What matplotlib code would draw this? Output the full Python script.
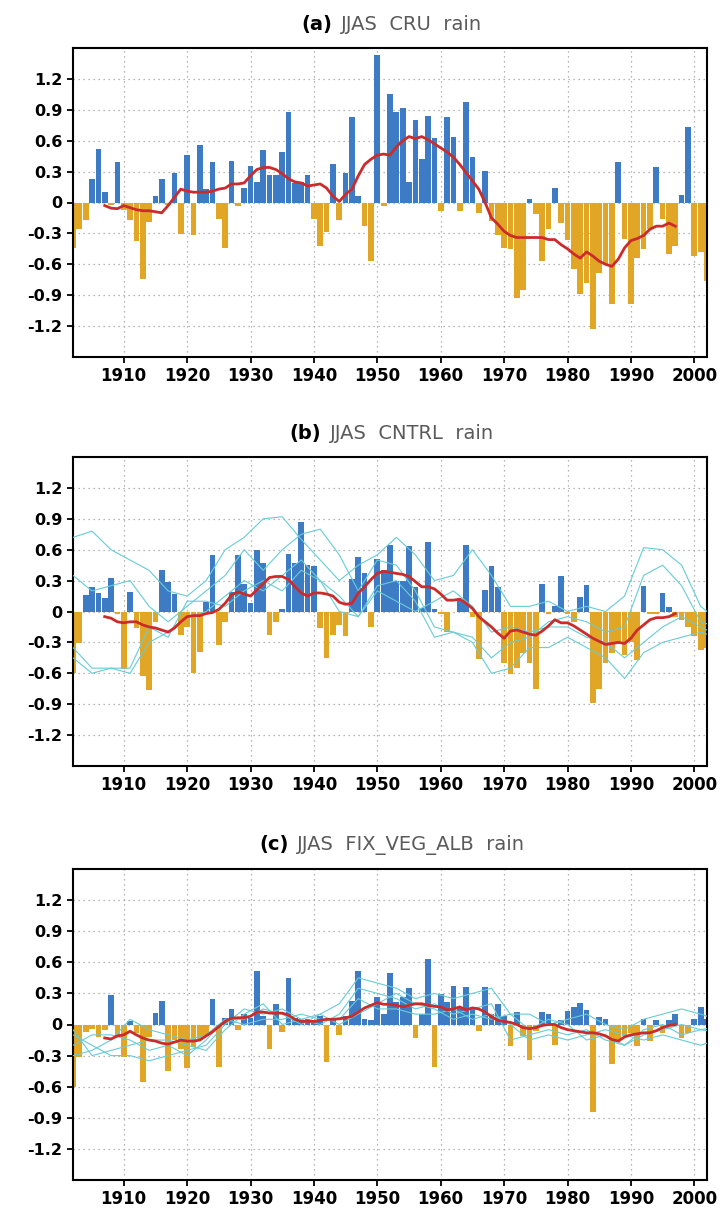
import matplotlib
matplotlib.use("Agg")
import matplotlib.pyplot as plt
from matplotlib.offsetbox import TextArea, HPacker, AnnotationBbox

# ---------------- data ----------------
years = list(range(1902, 2003))
smooth_years = list(range(1907, 1998))
member_years = [1902, 1905, 1908, 1911, 1914, 1917, 1920, 1923, 1926, 1929,
                1932, 1935, 1938, 1941, 1944, 1947, 1950, 1953, 1956, 1959,
                1962, 1965, 1968, 1971, 1974, 1977, 1980, 1983, 1986, 1989,
                1992, 1995, 1998, 2001, 2002]

cru_rain = [-0.44, -0.26, -0.17, 0.23, 0.52, 0.10, -0.02, 0.39, -0.07, -0.17,
            -0.37, -0.74, -0.19, 0.06, 0.23, -0.02, 0.29, -0.31, 0.46, -0.32,
            0.56, 0.13, 0.39, -0.16, -0.44, 0.40, -0.03, 0.14, 0.35, 0.20,
            0.51, 0.27, 0.27, 0.49, 0.88, 0.19, 0.20, 0.27, -0.16, -0.42,
            -0.29, 0.37, -0.17, 0.29, 0.83, 0.06, -0.23, -0.57, 1.43, -0.03,
            1.05, 0.88, 0.92, 0.20, 0.80, 0.42, 0.84, 0.63, -0.08, 0.83,
            0.64, -0.08, 0.98, 0.44, -0.10, 0.31, -0.18, -0.32, -0.44, -0.45,
            -0.93, -0.85, 0.03, -0.11, -0.57, -0.26, 0.14, -0.20, -0.36, -0.65,
            -0.89, -0.78, -1.23, -0.68, -0.60, -0.99, 0.39, -0.35, -0.99, -0.54,
            -0.45, -0.26, 0.34, -0.16, -0.50, -0.42, 0.07, 0.73, -0.52, -0.48,
            -0.76]

cru_smooth = [-0.03, -0.055, -0.06, -0.03, -0.05, -0.07, -0.08, -0.08, -0.09, -0.10,
              -0.03, 0.05, 0.13, 0.11, 0.10, 0.10, 0.10, 0.11, 0.13, 0.14,
              0.18, 0.18, 0.19, 0.26, 0.32, 0.34, 0.34, 0.32, 0.28, 0.23,
              0.20, 0.19, 0.16, 0.17, 0.18, 0.14, 0.06, 0.01, 0.08, 0.13,
              0.26, 0.37, 0.42, 0.46, 0.47, 0.46, 0.54, 0.60, 0.64, 0.62,
              0.64, 0.61, 0.57, 0.53, 0.49, 0.44, 0.37, 0.29, 0.21, 0.13,
              0.00, -0.15, -0.21, -0.28, -0.32, -0.34, -0.34, -0.34, -0.34, -0.34,
              -0.36, -0.36, -0.41, -0.45, -0.50, -0.54, -0.48, -0.52, -0.57, -0.60,
              -0.62, -0.55, -0.44, -0.37, -0.35, -0.32, -0.26, -0.23, -0.23, -0.20,
              -0.23]

cntrl_rain = [-0.60, -0.31, 0.16, 0.24, 0.18, 0.13, 0.33, -0.02, -0.56, 0.19,
              -0.16, -0.63, -0.76, -0.10, 0.40, 0.29, 0.17, -0.23, -0.15, -0.60,
              -0.39, 0.09, 0.55, -0.33, -0.10, 0.19, 0.55, 0.27, 0.08, 0.60,
              0.47, -0.23, -0.10, 0.02, 0.56, 0.47, 0.87, 0.45, 0.44, -0.16,
              -0.45, -0.23, -0.13, -0.24, 0.32, 0.53, 0.37, -0.15, 0.51, 0.40,
              0.65, 0.30, 0.30, 0.64, 0.24, 0.03, 0.67, 0.02, -0.02, -0.20,
              0.00, 0.11, 0.65, -0.05, -0.46, 0.21, 0.44, 0.24, -0.50, -0.61,
              -0.55, -0.40, -0.50, -0.75, 0.27, -0.02, 0.05, 0.34, -0.02, -0.10,
              0.14, 0.26, -0.89, -0.75, -0.50, -0.40, -0.30, -0.42, -0.30, -0.47,
              0.25, -0.02, -0.02, 0.18, 0.04, -0.05, -0.08, -0.15, -0.24, -0.37,
              -0.35]

cntrl_smooth = [-0.05, -0.065, -0.10, -0.11, -0.10, -0.10, -0.13, -0.15, -0.16, -0.18,
                -0.20, -0.16, -0.10, -0.05, -0.04, -0.04, -0.02, -0.01, 0.02, 0.08,
                0.16, 0.19, 0.17, 0.15, 0.21, 0.27, 0.33, 0.34, 0.34, 0.31,
                0.24, 0.18, 0.15, 0.18, 0.18, 0.17, 0.15, 0.09, 0.07, 0.08,
                0.18, 0.24, 0.31, 0.37, 0.39, 0.38, 0.37, 0.36, 0.34, 0.29,
                0.24, 0.24, 0.22, 0.17, 0.11, 0.11, 0.12, 0.08, 0.03, -0.05,
                -0.10, -0.15, -0.21, -0.26, -0.19, -0.18, -0.20, -0.22, -0.23, -0.19,
                -0.14, -0.08, -0.11, -0.11, -0.14, -0.18, -0.22, -0.26, -0.29, -0.32,
                -0.31, -0.30, -0.31, -0.26, -0.18, -0.13, -0.08, -0.06, -0.06, -0.05,
                -0.02]

cntrl_m1 = [0.72, 0.78, 0.60, 0.50, 0.40, 0.20, 0.15, 0.30, 0.60, 0.72, 0.90, 0.92,
            0.70, 0.50, 0.30, 0.45, 0.55, 0.72, 0.55, 0.30, 0.35, 0.60, 0.35, 0.05,
            0.05, 0.10, 0.00, 0.05, 0.00, 0.15, 0.62, 0.60, 0.45, 0.05, 0.00]
cntrl_m2 = [0.35, 0.20, 0.25, 0.30, 0.05, -0.10, 0.05, 0.20, 0.35, 0.60, 0.40, 0.60,
            0.75, 0.80, 0.55, 0.20, 0.50, 0.45, 0.20, -0.15, -0.20, -0.25, -0.45, -0.30,
            -0.25, -0.10, -0.05, -0.10, -0.20, -0.15, 0.35, 0.45, 0.25, -0.10, -0.12]
cntrl_m3 = [-0.35, -0.55, -0.55, -0.60, -0.30, -0.20, -0.05, 0.00, 0.15, 0.30, 0.20, 0.35,
            0.50, 0.30, 0.00, -0.05, 0.25, 0.30, 0.10, -0.25, -0.20, -0.30, -0.60, -0.55,
            -0.35, -0.35, -0.25, -0.35, -0.45, -0.65, -0.40, -0.30, -0.25, -0.20, -0.22]
cntrl_m4 = [-0.45, -0.60, -0.55, -0.55, -0.15, -0.25, 0.10, 0.10, 0.05, 0.20, 0.30, 0.20,
            0.40, 0.30, 0.15, -0.05, 0.20, 0.10, 0.00, 0.10, 0.20, 0.05, -0.20, -0.15,
            -0.20, -0.15, -0.15, -0.25, -0.30, -0.45, -0.30, -0.15, -0.05, -0.15, -0.18]

fix_rain = [-0.60, -0.31, -0.07, -0.04, -0.12, -0.05, 0.28, -0.10, -0.31, 0.03,
            -0.08, -0.55, -0.12, 0.11, 0.23, -0.45, -0.15, -0.24, -0.42, -0.22,
            -0.15, -0.10, 0.25, -0.41, 0.06, 0.15, -0.05, 0.10, 0.06, 0.52,
            0.08, -0.24, 0.20, -0.07, 0.45, 0.06, 0.02, 0.05, 0.03, 0.08,
            -0.36, 0.06, -0.10, 0.08, 0.23, 0.52, 0.05, 0.04, 0.27, 0.10,
            0.50, 0.22, 0.27, 0.35, -0.13, 0.10, 0.63, -0.41, 0.29, 0.22,
            0.37, 0.17, 0.36, 0.17, -0.06, 0.36, 0.10, 0.20, 0.08, -0.21,
            0.12, -0.11, -0.34, -0.06, 0.12, 0.10, -0.20, 0.04, 0.13, 0.17,
            0.21, 0.14, -0.84, 0.07, 0.05, -0.38, -0.16, -0.11, -0.08, -0.21,
            0.05, -0.16, 0.04, -0.08, 0.04, 0.10, -0.13, -0.08, 0.05, 0.17,
            0.05]

fix_smooth = [-0.13, -0.14, -0.11, -0.10, -0.065, -0.10, -0.13, -0.15, -0.16, -0.18,
              -0.19, -0.17, -0.15, -0.16, -0.16, -0.15, -0.11, -0.07, -0.02, 0.03,
              0.06, 0.065, 0.065, 0.08, 0.12, 0.12, 0.11, 0.11, 0.11, 0.09,
              0.05, 0.03, 0.03, 0.03, 0.04, 0.05, 0.05, 0.055, 0.065, 0.08,
              0.12, 0.16, 0.185, 0.21, 0.195, 0.195, 0.185, 0.17, 0.185, 0.20,
              0.20, 0.185, 0.175, 0.17, 0.14, 0.15, 0.17, 0.14, 0.16, 0.15,
              0.12, 0.075, 0.04, 0.03, 0.02, 0.00, -0.03, -0.04, -0.03, -0.01,
              0.00, 0.00, -0.03, -0.05, -0.06, -0.07, -0.08, -0.08, -0.09, -0.11,
              -0.145, -0.16, -0.12, -0.10, -0.09, -0.08, -0.08, -0.06, -0.03, -0.01,
              0.00]

fix_m1 = [-0.30, -0.25, -0.15, 0.05, -0.05, -0.10, -0.15, -0.10, 0.05, 0.05, 0.15, 0.10,
          0.00, 0.10, 0.20, 0.45, 0.40, 0.35, 0.25, 0.30, 0.25, 0.30, 0.35, 0.10,
          0.10, 0.00, 0.05, 0.10, 0.00, -0.05, 0.05, 0.10, 0.15, 0.10, 0.08]
fix_m2 = [-0.10, -0.20, -0.30, -0.30, -0.35, -0.30, -0.25, -0.20, 0.00, 0.15, 0.10, 0.15,
          0.05, 0.00, 0.10, 0.35, 0.30, 0.25, 0.15, 0.20, 0.10, 0.15, 0.20, -0.15,
          -0.10, -0.05, -0.10, -0.05, -0.15, -0.20, -0.10, -0.05, 0.00, -0.05, -0.06]
fix_m3 = [-0.20, -0.10, -0.10, -0.15, -0.25, -0.20, -0.30, -0.15, 0.05, 0.00, 0.05, 0.05,
          0.10, 0.05, 0.05, 0.25, 0.15, 0.15, 0.10, 0.10, 0.15, 0.05, 0.10, 0.00,
          -0.15, -0.10, -0.15, -0.10, -0.05, -0.10, -0.15, -0.10, -0.15, -0.20, -0.18]
fix_m4 = [-0.05, -0.30, -0.25, -0.20, -0.15, -0.15, -0.20, -0.25, -0.05, 0.10, 0.20, 0.00,
          0.05, 0.10, 0.00, 0.10, 0.20, 0.30, 0.20, 0.15, 0.05, 0.10, 0.05, 0.10,
          -0.05, 0.05, 0.00, -0.15, -0.10, -0.20, -0.05, 0.00, -0.10, -0.05, -0.04]

y_ticks = [-1.2, -0.9, -0.6, -0.3, 0, 0.3, 0.6, 0.9, 1.2]
y_ticklabels = ["-1.2", "-0.9", "-0.6", "-0.3", "0", "0.3", "0.6", "0.9", "1.2"]
x_ticks = [1910, 1920, 1930, 1940, 1950, 1960, 1970, 1980, 1990, 2000]

panels = [
    ("(a)", "JJAS  CRU  rain", cru_rain, cru_smooth, []),
    ("(b)", "JJAS  CNTRL  rain", cntrl_rain, cntrl_smooth,
     [cntrl_m1, cntrl_m2, cntrl_m3, cntrl_m4]),
    ("(c)", "JJAS  FIX_VEG_ALB  rain", fix_rain, fix_smooth,
     [fix_m1, fix_m2, fix_m3, fix_m4]),
]

# ---------------- style ----------------
BLUE = "#3d7cc4"
ORANGE = "#e2a626"
RED = "#cc2b2b"
CYAN = "#66ccd6"

W, H = 721, 1213
fig = plt.figure(figsize=(W / 100, H / 100), dpi=100)

axes_px = [(48, 357), (457, 766), (869, 1180)]
left_px, right_px = 73, 707

for (tag, title, bars, smooth, members), (top, bot) in zip(panels, axes_px):
    ax = fig.add_axes([left_px / W, 1 - bot / H, (right_px - left_px) / W, (bot - top) / H])
    colors = [BLUE if v >= 0 else ORANGE for v in bars]
    ax.bar(years, bars, width=0.9, color=colors, linewidth=0, zorder=2)
    for m in members:
        ax.plot(member_years, m, color=CYAN, lw=0.8, zorder=3)
    ax.plot(smooth_years, smooth, color=RED, lw=2.0, zorder=4)

    ax.set_xlim(1902, 2002)
    ax.set_ylim(-1.5, 1.5)
    ax.set_yticks(y_ticks)
    ax.set_yticklabels(y_ticklabels)
    ax.set_xticks(x_ticks)
    ax.set_xticklabels([str(x) for x in x_ticks])
    ax.grid(True, color="#a0a0a0", linestyle=(0, (1, 3)), linewidth=0.9, zorder=1)
    ax.set_axisbelow(True)
    ax.tick_params(axis="both", direction="out", length=4.5, width=1.3, pad=3)
    ax.tick_params(axis="y", labelsize=11.5)
    ax.tick_params(axis="x", labelsize=12)
    for lab in ax.get_xticklabels() + ax.get_yticklabels():
        lab.set_fontweight("bold")
    for sp in ax.spines.values():
        sp.set_linewidth(1.5)

    t1 = TextArea(tag, textprops=dict(fontsize=14, fontweight="bold", color="black"))
    t2 = TextArea(title, textprops=dict(fontsize=14, color="#5a5a5a"))
    box = HPacker(children=[t1, t2], align="baseline", pad=0, sep=6)
    ab = AnnotationBbox(box, (0.503, 1.0), xycoords="axes fraction",
                        xybox=(0, 17), boxcoords="offset points",
                        frameon=False, box_alignment=(0.5, 0.5))
    ax.add_artist(ab)

fig.savefig("out.png", dpi=100)
